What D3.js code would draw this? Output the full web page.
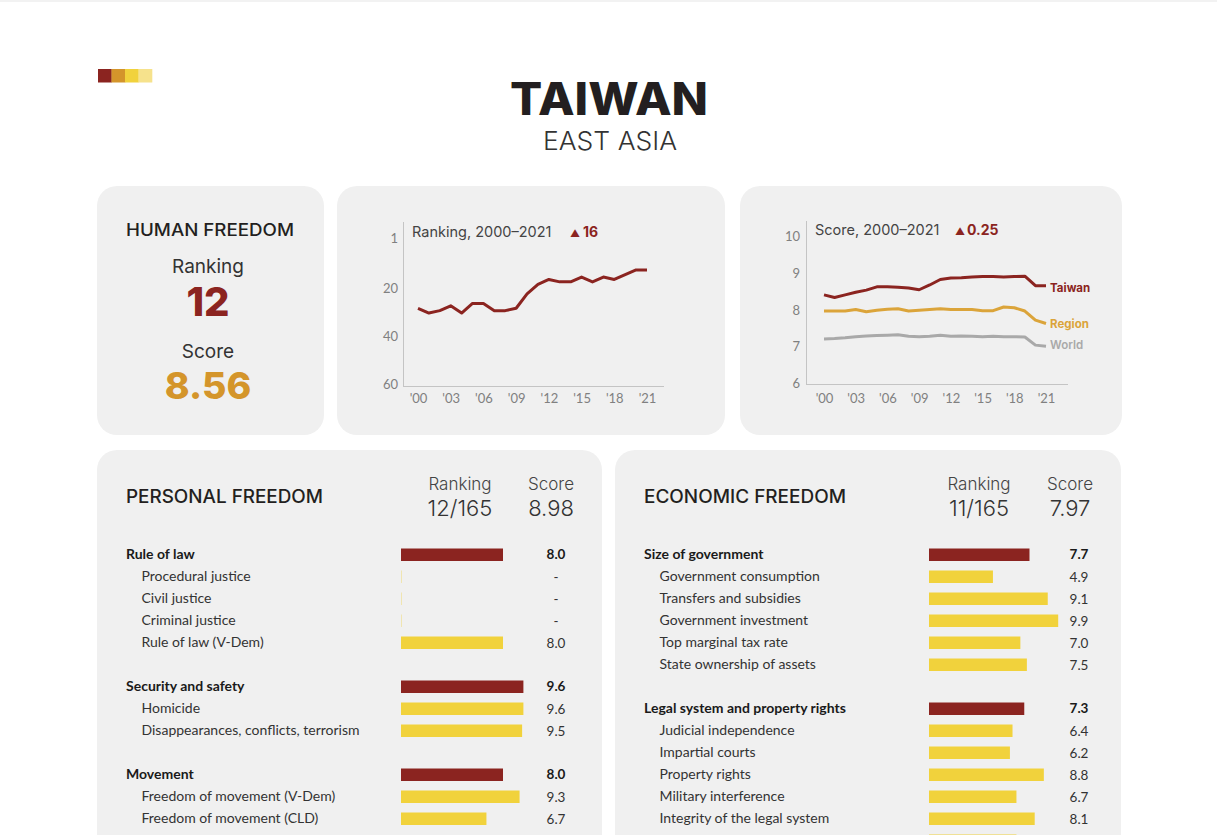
<!DOCTYPE html>
<html><head><meta charset="utf-8">
<script src="https://cdn.jsdelivr.net/npm/d3@7"></script>
<style>
html,body{margin:0;padding:0;background:#fff;}
svg{display:block;}
text{font-family:Lato,"Open Sans",sans-serif;}
.h{font-family:Inter,"Open Sans",sans-serif;}
</style></head><body>
<svg id="c" width="1217" height="835"></svg>
<script>
// ---------------- DATA ----------------
const country = "TAIWAN";
const region = "EAST ASIA";
const hfRanking = "12";
const hfScore = "8.56";
const rankChange = "16";
const scoreChange = "0.25";

const years = [2000,2001,2002,2003,2004,2005,2006,2007,2008,2009,2010,2011,2012,2013,2014,2015,2016,2017,2018,2019,2020,2021];
const xTickYears = [2000,2003,2006,2009,2012,2015,2018,2021];
const rankTicks = [1,20,40,60];
const scoreTicks = [6,7,8,9,10];

const rankSeries = [28,30,29,27,30,26,26,29,29,28,22,18,16,17,17,15,17,15,16,14,12,12];
const taiwanScore = [8.31,8.24,8.31,8.38,8.44,8.53,8.53,8.52,8.50,8.45,8.58,8.73,8.77,8.78,8.80,8.81,8.81,8.80,8.81,8.82,8.56,8.56];
const regionScore = [7.87,7.87,7.87,7.91,7.85,7.89,7.92,7.93,7.87,7.89,7.91,7.93,7.91,7.91,7.91,7.88,7.88,7.98,7.96,7.87,7.62,7.53];
const worldScore  = [7.11,7.12,7.14,7.17,7.19,7.20,7.21,7.22,7.18,7.17,7.18,7.21,7.18,7.19,7.18,7.17,7.18,7.17,7.17,7.16,6.94,6.91];
const seriesNames = ["Taiwan","Region","World"];

const personalRanking = "12/165";
const personalScore = "8.98";
const personalLabels = ["Rule of law","Procedural justice","Civil justice","Criminal justice","Rule of law (V-Dem)",
  "Security and safety","Homicide","Disappearances, conflicts, terrorism",
  "Movement","Freedom of movement (V-Dem)","Freedom of movement (CLD)"];
const personalValues = [8.0,null,null,null,8.0, 9.6,9.6,9.5, 8.0,9.3,6.7];
const personalIsHeader = [true,false,false,false,false, true,false,false, true,false,false];

const economicRanking = "11/165";
const economicScore = "7.97";
const economicLabels = ["Size of government","Government consumption","Transfers and subsidies","Government investment","Top marginal tax rate","State ownership of assets",
  "Legal system and property rights","Judicial independence","Impartial courts","Property rights","Military interference","Integrity of the legal system","Legal enforcement of contracts"];
const economicValues = [7.7,4.9,9.1,9.9,7.0,7.5, 7.3,6.4,6.2,8.8,6.7,8.1,6.7];
const economicIsHeader = [true,false,false,false,false,false, true,false,false,false,false,false,false];

// ---------------- STYLE ----------------
const RED="#8b2420", GOLD="#d4952b", YEL="#f1d23c", PALE="#f6e28c", BG="#f0f0f0", GRAY="#a9a9a9", INK="#231f20", TXT="#333";
const H = 835;
const svg = d3.select("#c");

svg.append("rect").attr("x",0).attr("y",0).attr("width",1217).attr("height",2).attr("fill","#f2f2f2");

// swatch strip
const sw = d3.scaleBand().domain([0,1,2,3]).range([98,152]);
svg.selectAll("rect.sw").data([RED,GOLD,YEL,PALE]).join("rect").attr("class","sw")
  .attr("x",(d,i)=>sw(i)).attr("y",69).attr("width",sw.bandwidth()+0.3).attr("height",13.5).attr("fill",d=>d);

// title
svg.append("text").attr("class","h").attr("x",609).attr("y",115).attr("text-anchor","middle")
  .attr("font-size",45).attr("font-weight",800).attr("fill",INK).attr("textLength",198).attr("lengthAdjust","spacingAndGlyphs").text(country);
svg.append("text").attr("class","h").attr("x",610).attr("y",150).attr("text-anchor","middle")
  .attr("font-size",26).attr("font-weight",300).attr("fill","#333").attr("textLength",134).attr("lengthAdjust","spacingAndGlyphs").text(region);

// panels
const panels = [[97,186,227,249],[337,186,388,249],[740,186,382,249],[97,450,505,420],[615,450,506,420]];
svg.selectAll("rect.pn").data(panels).join("rect").attr("class","pn")
  .attr("x",d=>d[0]).attr("y",d=>d[1]).attr("width",d=>d[2]).attr("height",d=>d[3]).attr("rx",20).attr("fill",BG);

// human freedom panel
svg.append("text").attr("class","h").attr("x",126).attr("y",236).attr("font-size",17).attr("font-weight",500).attr("fill",INK)
  .attr("textLength",168).attr("lengthAdjust","spacingAndGlyphs").text("HUMAN FREEDOM");
svg.append("text").attr("class","h").attr("x",208).attr("y",272.5).attr("text-anchor","middle").attr("font-size",19).attr("fill",TXT).text("Ranking");
svg.append("text").attr("class","h").attr("x",208).attr("y",316).attr("text-anchor","middle").attr("font-size",40).attr("font-weight",800).attr("fill",RED).text(hfRanking);
svg.append("text").attr("class","h").attr("x",208).attr("y",358).attr("text-anchor","middle").attr("font-size",19).attr("fill",TXT).text("Score");
svg.append("text").attr("class","h").attr("x",208).attr("y",399).attr("text-anchor","middle").attr("font-size",37.5).attr("font-weight",800).attr("fill",GOLD).text(hfScore);

// ---------- ranking chart ----------
const xR = d3.scaleLinear().domain([2000,2021]).range([418,647]);
const yR = d3.scaleLinear().domain([1,60]).range([243.5,385]);
const gR = svg.append("g");
gR.append("line").attr("x1",403.5).attr("x2",403.5).attr("y1",222).attr("y2",387).attr("stroke","#c4c4c4");
gR.append("line").attr("x1",403).attr("x2",664).attr("y1",386.5).attr("y2",386.5).attr("stroke","#c4c4c4");
const axL = gR.append("g").attr("transform","translate(398,0)")
  .call(d3.axisLeft(yR).tickValues(rankTicks).tickSize(0).tickPadding(0).tickFormat(d3.format("d")));
axL.select(".domain").remove();
axL.selectAll("text").attr("font-size",13).attr("fill","#808080").attr("font-family","Inter, sans-serif").attr("dy",(d)=>d===1?"-0.1em":"0.25em");
const axB = gR.append("g").attr("transform","translate(0,395)")
  .call(d3.axisBottom(xR).tickValues(xTickYears).tickSize(0).tickPadding(0).tickFormat(d=>"'"+String(d).slice(2)));
axB.select(".domain").remove();
axB.selectAll("text").attr("font-size",13).attr("fill","#808080").attr("font-family","Inter, sans-serif").attr("dy","0.6em");
gR.append("path").datum(rankSeries).attr("fill","none").attr("stroke",RED).attr("stroke-width",3).attr("stroke-linejoin","round")
  .attr("d",d3.line().x((d,i)=>xR(years[i])).y(d=>yR(d)));
gR.append("text").attr("class","h").attr("x",412).attr("y",237).attr("font-size",14.5).attr("fill","#444").text("Ranking, 2000\u20132021");
gR.append("text").attr("class","h").attr("x",570).attr("y",237).attr("font-size",10).attr("fill",RED).text("\u25B2");
gR.append("text").attr("class","h").attr("x",583).attr("y",237).attr("font-size",14).attr("font-weight",700).attr("fill",RED).text(rankChange);

// ---------- score chart ----------
const xS = d3.scaleLinear().domain([2000,2021]).range([824,1046]);
const yS = d3.scaleLinear().domain([6,10]).range([379.6,232.9]);
const gS = svg.append("g");
gS.append("line").attr("x1",806.5).attr("x2",806.5).attr("y1",221).attr("y2",385).attr("stroke","#c4c4c4");
gS.append("line").attr("x1",806).attr("x2",1068).attr("y1",384.5).attr("y2",384.5).attr("stroke","#c4c4c4");
const aSL = gS.append("g").attr("transform","translate(800,0)")
  .call(d3.axisLeft(yS).tickValues(scoreTicks).tickSize(0).tickPadding(0).tickFormat(d3.format("d")));
aSL.select(".domain").remove();
aSL.selectAll("text").attr("font-size",13).attr("fill","#808080").attr("font-family","Inter, sans-serif").attr("dy","0.6em");
const aSB = gS.append("g").attr("transform","translate(0,395)")
  .call(d3.axisBottom(xS).tickValues(xTickYears).tickSize(0).tickPadding(0).tickFormat(d=>"'"+String(d).slice(2)));
aSB.select(".domain").remove();
aSB.selectAll("text").attr("font-size",13).attr("fill","#808080").attr("font-family","Inter, sans-serif").attr("dy","0.6em");
const scoreData = [worldScore, regionScore, taiwanScore];
const scoreColors = [GRAY, "#dba43a", RED];
const scoreNames = [seriesNames[2], seriesNames[1], seriesNames[0]];
const sl = d3.line().x((d,i)=>xS(years[i])).y(d=>yS(d));
gS.selectAll("path.s").data(scoreData).join("path").attr("class","s").attr("fill","none")
  .attr("stroke",(d,i)=>scoreColors[i]).attr("stroke-width",3).attr("stroke-linejoin","round").attr("d",sl);
gS.selectAll("text.sl").data(scoreData).join("text").attr("class","sl h")
  .attr("x",1050).attr("y",(d,i)=>yS(d[d.length-1]) + [ -1, 0.5, 2][i]).attr("dy","0.35em")
  .attr("font-size",11.5).attr("font-weight",(d,i)=>i===0?600:700).attr("fill",(d,i)=>scoreColors[i]).text((d,i)=>scoreNames[i]);
gS.append("text").attr("class","h").attr("x",815).attr("y",235).attr("font-size",14.5).attr("fill","#444").text("Score, 2000\u20132021");
gS.append("text").attr("class","h").attr("x",955).attr("y",235).attr("font-size",10).attr("fill",RED).text("\u25B2");
gS.append("text").attr("class","h").attr("x",967).attr("y",235).attr("font-size",14).attr("font-weight",700).attr("fill",RED).text(scoreChange);

// ---------- bar panels ----------
function barPanel(o){
  const g = svg.append("g");
  g.append("text").attr("class","h").attr("x",o.tx).attr("y",503).attr("font-size",18).attr("font-weight",500).attr("fill",INK)
    .attr("textLength",o.tw).attr("lengthAdjust","spacingAndGlyphs").text(o.title);
  g.append("text").attr("class","h").attr("x",o.rx).attr("y",490).attr("text-anchor","middle").attr("font-size",17).attr("font-weight",300).attr("fill","#444").text("Ranking");
  g.append("text").attr("class","h").attr("x",o.rx).attr("y",516).attr("text-anchor","middle").attr("font-size",22).attr("font-weight",300).attr("fill","#333").text(o.ranking);
  g.append("text").attr("class","h").attr("x",o.sx).attr("y",490).attr("text-anchor","middle").attr("font-size",17).attr("font-weight",300).attr("fill","#444").text("Score");
  g.append("text").attr("class","h").attr("x",o.sx).attr("y",516).attr("text-anchor","middle").attr("font-size",22).attr("font-weight",300).attr("fill","#333").text(o.score);
  // row positions: an empty row between groups
  let idx=-1; const rowIdx = o.labels.map((l,i)=>{ if(o.hdr[i] && i>0) idx+=2; else idx+=1; return idx; });
  const y = d3.scaleLinear().domain([0,1]).range([554,576]);
  const x = d3.scaleLinear().domain([0,10]).range([o.bx, o.bx+o.bw]);
  const rows = o.labels.map((l,i)=>({l, v:o.values[i], h:o.hdr[i], r:rowIdx[i]}));
  const rg = g.selectAll("g.row").data(rows).join("g").attr("class","row").attr("transform",d=>`translate(0,${y(d.r)})`);
  rg.append("rect").attr("x",x(0)).attr("y",-5.5).attr("height",12.5)
    .attr("width",d=>d.v==null?1:x(d.v)-x(0)).attr("fill",d=>d.h?RED:YEL).attr("opacity",d=>d.v==null?0.35:1);
  // labels only for rows that fall inside the page (the last row is cut by the page edge)
  const vis = rg.filter(d=>y(d.r)+7 < H);
  vis.append("text").attr("x",d=>d.h?o.lx:o.lx+15.5).attr("dy","0.35em").attr("font-size",14)
    .attr("font-weight",d=>d.h?700:400).attr("fill",d=>d.h?"#1a1a1a":"#333").text(d=>d.l);
  vis.append("text").attr("x",o.vx).attr("dy",d=>d.h?"0.35em":"0.45em").attr("text-anchor","middle").attr("font-size",13.5)
    .attr("font-weight",d=>d.h?700:400).attr("fill",d=>d.h?"#1a1a1a":"#333").text(d=>d.v==null?"-":d3.format(".1f")(d.v));
}
barPanel({title:"PERSONAL FREEDOM", tx:126, tw:197, rx:460, sx:551, ranking:personalRanking, score:personalScore,
  labels:personalLabels, values:personalValues, hdr:personalIsHeader, lx:126, bx:401, bw:127.5, vx:556});
barPanel({title:"ECONOMIC FREEDOM", tx:644, tw:202, rx:979, sx:1070, ranking:economicRanking, score:economicScore,
  labels:economicLabels, values:economicValues, hdr:economicIsHeader, lx:644, bx:929, bw:130.5, vx:1079});
</script>
</body></html>
